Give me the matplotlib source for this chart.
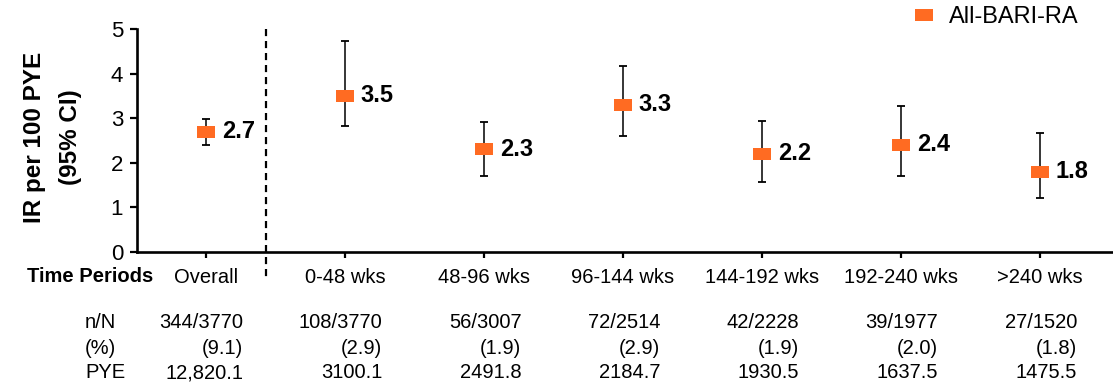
import matplotlib
matplotlib.use("Agg")
import matplotlib.pyplot as plt
from matplotlib.lines import Line2D
import matplotlib.transforms as mtransforms

plt.rcParams["font.family"] = ["Liberation Sans", "DejaVu Sans"]

# Incidence rates per 100 patient-years with 95% CI
periods = ["Overall", "0-48 wks", "48-96 wks", "96-144 wks",
           "144-192 wks", "192-240 wks", ">240 wks"]
ir = [2.7, 3.5, 2.3, 3.3, 2.2, 2.4, 1.8]
ci_low = [2.41, 2.83, 1.70, 2.59, 1.58, 1.70, 1.22]
ci_high = [2.98, 4.74, 2.91, 4.16, 2.94, 3.27, 2.67]

n_over_N = ["344/3770", "108/3770", "56/3007", "72/2514",
            "42/2228", "39/1977", "27/1520"]
pct = ["(9.1)", "(2.9)", "(1.9)", "(2.9)", "(1.9)", "(2.0)", "(1.8)"]
pye = ["12,820.1", "3100.1", "2491.8", "2184.7",
       "1930.5", "1637.5", "1475.5"]

series_name = "All-BARI-RA"
orange = "#FF6B22"

W, H = 1113, 392
fig = plt.figure(figsize=(W / 100, H / 100), dpi=100)
ax = fig.add_axes([137 / W, 1 - 252 / H, (1112 - 137) / W, (252 - 29) / H])

x = list(range(len(periods)))
yerr = [[v - lo for v, lo in zip(ir, ci_low)],
        [hi - v for v, hi in zip(ir, ci_high)]]

# Wide rectangular marker
rect = [(-1.35, -1), (1.35, -1), (1.35, 1), (-1.35, 1), (-1.35, -1)]

ax.errorbar(x, ir, yerr=yerr, fmt="none", ecolor="black", elinewidth=1.1,
            capsize=2.6, capthick=1.3, zorder=2)
ax.plot(x, ir, linestyle="none", marker=rect, markersize=12.5,
        color=orange, markeredgewidth=0, zorder=3)

for xi, v in zip(x, ir):
    ax.annotate(f"{v:.1f}", (xi, v), xytext=(11.5, 0),
                textcoords="offset points", ha="left", va="center",
                fontsize=17, fontweight="bold")

ax.set_xlim(-0.496, 6.52)
ax.set_ylim(0, 5)
ax.set_yticks([0, 1, 2, 3, 4, 5])
ax.set_xticks(x)
ax.set_xticklabels(periods, fontsize=14.5)
ax.tick_params(axis="y", labelsize=16, width=1.6, length=5, pad=5)
ax.tick_params(axis="x", width=1.6, length=4.5, pad=7)

for side in ("top", "right"):
    ax.spines[side].set_visible(False)
for side in ("left", "bottom"):
    ax.spines[side].set_linewidth(1.9)

# Separator between the overall estimate and the time periods
separator_x = 0.435
ax.plot([separator_x, separator_x], [5, -0.6], color="black", lw=1.6,
        linestyle=(0, (3.2, 2.2)), clip_on=False, zorder=1)

# Y-axis title in two lines
fig.text(35 / W, 1 - 137 / H, "IR per 100 PYE", rotation=90, ha="center",
         va="center", fontsize=17.5, fontweight="bold")
fig.text(70 / W, 1 - 137 / H, "(95% CI)", rotation=90, ha="center",
         va="center", fontsize=17.5, fontweight="bold")

fig.text(153 / W, 1 - 276 / H, "Time Periods", ha="right", va="center",
         fontsize=14.5, fontweight="bold")

# Counts table below the axis
trans = mtransforms.blended_transform_factory(ax.transData, fig.transFigure)
row_y = [1 - 323 / H, 1 - 348 / H, 1 - 373 / H]
row_labels = ["n/N", "(%)", "PYE"]
for ry, lab in zip(row_y, row_labels):
    fig.text(85 / W, ry, lab, ha="left", va="center", fontsize=14.5)
for xi, a, b, c in zip(x, n_over_N, pct, pye):
    for ry, s in zip(row_y, (a, b, c)):
        ax.text(xi + 0.27, ry, s, transform=trans, ha="right", va="center",
                fontsize=14.5)

# Legend
handle = Line2D([], [], linestyle="none", marker=rect, markersize=12.5,
                color=orange, markeredgewidth=0)
fig.legend([handle], [series_name], loc="center left",
           bbox_to_anchor=(912 / W, 1 - 17 / H), frameon=False,
           fontsize=17, handlelength=1.0, handletextpad=0.55, borderpad=0,
           borderaxespad=0)

fig.savefig("out.png", dpi=100)
